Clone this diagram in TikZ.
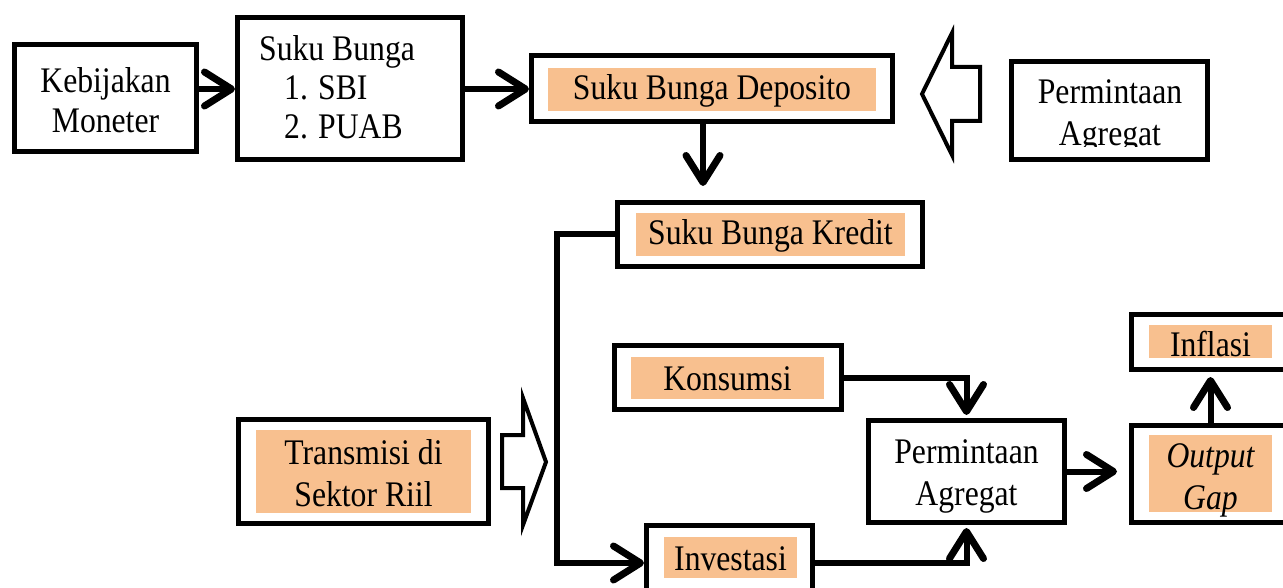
\documentclass[tikz,border=0pt]{standalone}
\usepackage{fontspec}
\setmainfont{Liberation Serif}[FakeStretch=0.88]
\usetikzlibrary{arrows.meta}
\definecolor{peach}{HTML}{F8C08F}
\tikzset{
  box/.style={draw, line width=5pt, rectangle, inner sep=0pt},
  hl/.style={fill=peach, rectangle, inner sep=0pt},
  txt/.style={font=\fontsize{36}{42}\selectfont, align=center, inner sep=0pt},
  conn/.style={line width=6pt, -{Straight Barb[length=27pt,width=34pt,line width=7pt,round]}},
  hollow/.style={draw, line width=4pt, line join=miter, fill=white},
}
\begin{document}
\begin{tikzpicture}[x=1pt,y=-1pt]
\useasboundingbox (0,0) rectangle (1283,588);
\clip (0,0) rectangle (1283,588);
\fill[white] (0,0) rectangle (1283,588);

% --- top row
\node[box, minimum width=182pt, minimum height=107pt] (km) at (105.5,98) {};
\node[txt, font=\fontsize{36}{40}\selectfont] (kmt) at (105.5,100) {Kebijakan\\Moneter};
\node[box, minimum width=225pt, minimum height=142pt] (sb) at (350,89) {};
\node[txt, align=left, anchor=north west, font=\fontsize{36}{39}\selectfont] (sbt) at (259,35.5)
  {Suku Bunga\\\hspace*{25pt}\makebox[34pt][l]{1.}SBI\\\hspace*{25pt}\makebox[34pt][l]{2.}PUAB};
\node[box, minimum width=361pt, minimum height=66pt] (dep) at (712,89) {};
\node[hl, minimum width=328pt, minimum height=43pt] (deph) at (712,89.5) {};
\node[txt] (dept) at (712,91) {Suku Bunga Deposito};
\node[box, minimum width=196pt, minimum height=98pt] (pa1) at (1109.5,110.5) {};
\begin{scope}
  \clip (1000,60) rectangle (1220,147);
  \node[txt] (pa1t) at (1110,116) {Permintaan\\Agregat};
\end{scope}
\draw[hollow] (922,94) -- (952,33) -- (952,67) -- (980,67) -- (980,121) -- (952,121) -- (952,155) -- cycle;

% --- middle / lower
\node[box, minimum width=305pt, minimum height=64pt] (kr) at (770,234.5) {};
\node[hl, minimum width=269pt, minimum height=43pt] (krh) at (770.5,234.5) {};
\node[txt] (krt) at (770.5,236) {Suku Bunga Kredit};
\node[box, minimum width=227pt, minimum height=64pt] (ko) at (728,377.5) {};
\node[hl, minimum width=193pt, minimum height=42pt] (koh) at (727.5,378) {};
\node[txt] (kot) at (727.5,379) {Konsumsi};
\node[box, minimum width=250pt, minimum height=104pt] (tr) at (363.5,471.5) {};
\node[hl, minimum width=215pt, minimum height=83pt] (trh) at (363.5,471.5) {};
\node[txt] (trt) at (363.5,473) {Transmisi di\\Sektor Riil};
\draw[hollow] (546,462) -- (523,398) -- (523,435) -- (502,435) -- (502,488) -- (523,488) -- (523,525) -- cycle;
\node[box, minimum width=166pt, minimum height=75pt] (inv) at (729.5,563) {};
\node[hl, minimum width=133pt, minimum height=41pt] (invh) at (730.5,557.5) {};
\node[txt] (invt) at (730.5,558.5) {Investasi};
\node[box, minimum width=196pt, minimum height=102pt] (pa2) at (966.5,471.5) {};
\node[txt] (pa2t) at (966.5,476) {Permintaan\\Agregat};
\node[box, minimum width=160pt, minimum height=97pt] (og) at (1211.5,474) {};
\node[hl, minimum width=123pt, minimum height=77pt] (ogh) at (1210.5,473.5) {};
\node[txt, font=\fontsize{36}{42}\selectfont\itshape] (ogt) at (1210.5,480) {Output\\Gap};
\node[box, minimum width=160pt, minimum height=55pt] (inf) at (1211.5,342) {};
\node[hl, minimum width=123pt, minimum height=33pt] (infh) at (1210.5,341.5) {};
\node[txt] (inft) at (1210.5,344) {Inflasi};

% --- connectors
\coordinate (depEnd) at (703,186);
\coordinate (bend) at (557,0);
\draw[conn] (sb.west -| km.east) -- (sb.west);
\draw[conn] (sb.east) -- (dep.west);
\draw[conn] (dep.south -| depEnd) -- (depEnd);
\draw[conn] (kr.west) -- (kr.west -| bend) -- (inv.west -| bend) -- (inv.west);
\draw[conn, shorten >=3pt] (ko.east) -| (pa2.north);
\draw[conn, shorten >=3pt] (inv.east) -| (pa2.south);
\draw[conn, shorten >=12pt] (pa2.east) -- (og.west |- pa2.east);
\draw[conn, shorten >=5pt] (og.north -| ogh.north) -- (inf.south -| ogh.north);
\end{tikzpicture}
\end{document}
